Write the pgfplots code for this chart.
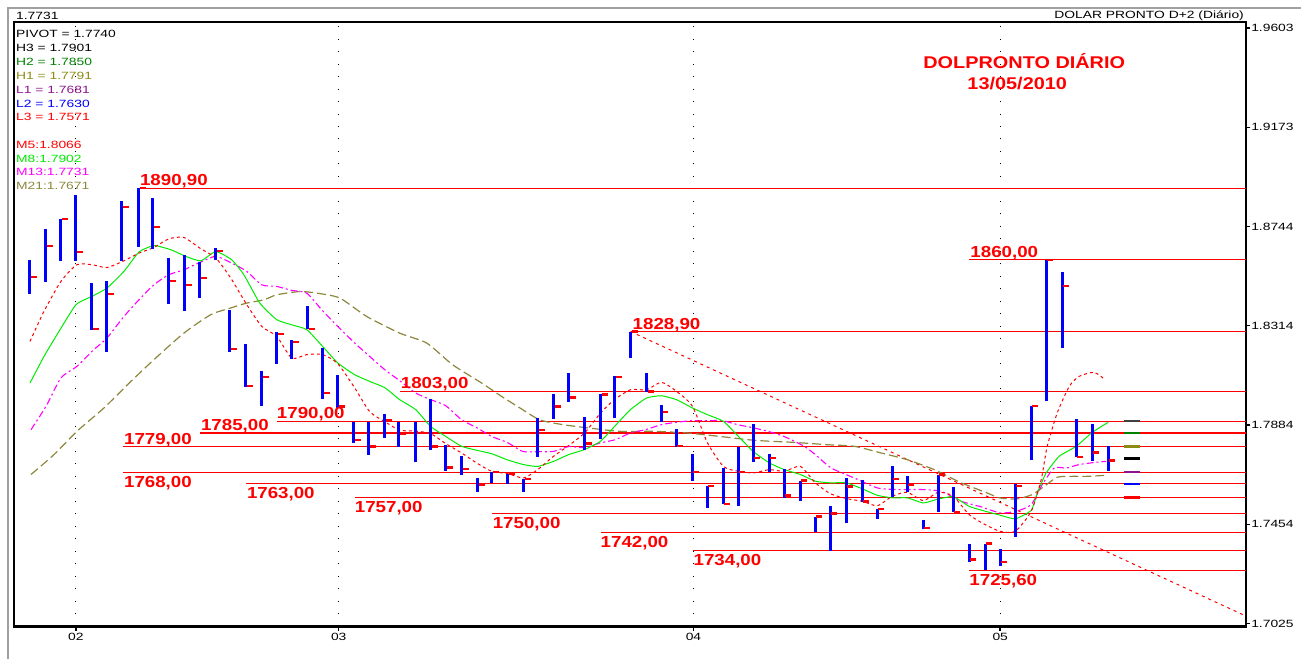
\documentclass[border=0pt]{standalone}
\usepackage{pgfplots}
\pgfplotsset{compat=1.18}
\usepackage{pgfplotstable}
\usepackage{fontspec}
\setmainfont{Liberation Sans}
\newfontfamily\labfont[FakeStretch=1.17]{Liberation Sans}
\newfontfamily\smfont[FakeStretch=1.32]{Liberation Sans}
\newcommand\sm{\smfont\fontsize{10.5bp}{12bp}\selectfont}
\newcommand\lab{\labfont\bfseries\fontsize{16bp}{18bp}\selectfont}
\newcommand\ttl{\labfont\bfseries\fontsize{17bp}{19bp}\selectfont}

\definecolor{hgreen}{RGB}{0,128,0}
\definecolor{holive}{RGB}{140,140,20}
\definecolor{lpurple}{RGB}{140,20,140}
\definecolor{mgreen}{RGB}{0,235,0}
\definecolor{mmag}{RGB}{255,0,255}
\definecolor{molive}{RGB}{140,135,60}
\definecolor{srred}{RGB}{255,0,0}
\definecolor{frame}{RGB}{160,160,160}

\pgfdeclareplotmark{closetick}{\pgfpathmoveto{\pgfqpoint{1bp}{0pt}}\pgfpathlineto{\pgfqpoint{7bp}{0pt}}\pgfusepathqstroke}

% daily bars: x position, high, low, close
\pgfplotstableread{
x h l c
30 1.8599 1.8452 1.8526
46 1.8734 1.8504 1.8660
61 1.8777 1.8595 1.8777
76 1.8881 1.8595 1.8634
92 1.8500 1.8297 1.8301
107 1.8509 1.8202 1.8452
122 1.8855 1.8595 1.8829
139 1.8909 1.8656 1.8909
153 1.8868 1.8647 1.8742
169 1.8608 1.8409 1.8509
185 1.8621 1.8379 1.8491
200 1.8591 1.8435 1.8522
216 1.8651 1.8599 1.8638
230 1.8383 1.8202 1.8214
246 1.8236 1.8050 1.8054
262 1.8119 1.7968 1.8093
277 1.8288 1.8150 1.8279
292 1.8253 1.8171 1.8245
308 1.8400 1.8301 1.8301
323 1.8219 1.7998 1.8024
338 1.8102 1.7959 1.7964
354 1.7899 1.7808 1.7821
369 1.7899 1.7756 1.7791
385 1.7933 1.7830 1.7907
399 1.7899 1.7791 1.7847
416 1.7899 1.7726 1.7851
431 1.7998 1.7778 1.7791
446 1.7799 1.7687 1.7700
462 1.7752 1.7670 1.7695
478 1.7657 1.7596 1.7626
492 1.7682 1.7635 1.7682
508 1.7674 1.7631 1.7674
524 1.7652 1.7596 1.7652
538 1.7916 1.7747 1.7864
554 1.8020 1.7912 1.7964
569 1.8111 1.7985 1.8003
585 1.7920 1.7778 1.7804
601 1.8020 1.7825 1.8016
615 1.8098 1.7916 1.8093
631 1.8289 1.8176 1.8289
647 1.8111 1.8029 1.8029
662 1.7972 1.7899 1.7942
677 1.7868 1.7791 1.7795
693 1.7760 1.7644 1.7682
708 1.7622 1.7527 1.7622
724 1.7700 1.7544 1.7544
739 1.7791 1.7535 1.7682
754 1.7890 1.7726 1.7743
770 1.7760 1.7682 1.7743
785 1.7695 1.7570 1.7579
801 1.7644 1.7557 1.7644
816 1.7488 1.7423 1.7488
831 1.7535 1.7340 1.7501
847 1.7657 1.7458 1.7618
863 1.7648 1.7553 1.7553
878 1.7522 1.7479 1.7522
893 1.7708 1.7574 1.7652
908 1.7665 1.7596 1.7626
924 1.7475 1.7432 1.7440
939 1.7670 1.7509 1.7670
954 1.7618 1.7509 1.7509
970 1.7371 1.7293 1.7302
986 1.7371 1.7256 1.7371
1001 1.7349 1.7272 1.7293
1016 1.7631 1.7401 1.7622
1032 1.7968 1.7734 1.7968
1047 1.8600 1.7990 1.8600
1063 1.8548 1.8219 1.8487
1077 1.7912 1.7747 1.7747
1093 1.7890 1.7730 1.7765
1109 1.7795 1.7687 1.7731
}\bars

\begin{document}
\begin{tikzpicture}
\begin{scope}[shift={(-14bp,627bp)},x=1bp,y=-1bp]
\useasboundingbox (0,0) rectangle (1302,660);
\end{scope}
\begin{axis}[
  at={(0,0)}, anchor=south west,
  scale only axis, width=1233bp, height=605bp,
  xmin=14, xmax=1247, ymin=1.701202, ymax=1.962881,
  clip=false,
  axis line style={line width=2.5bp, black},
  xtick={76,339,694,1001}, xticklabels={02,03,04,05},
  ytick={1.7025,1.7454,1.7884,1.8314,1.8744,1.9173,1.9603},
  yticklabels={1.7025,1.7454,1.7884,1.8314,1.8744,1.9173,1.9603},
  xtick pos=left, ytick pos=right, yticklabel pos=right,
  tick align=outside, major tick length=4bp,
  tick style={line width=1.5bp, black},
  xmajorgrids, grid style={black, line width=0.9bp, dash pattern=on 0.9bp off 11.6bp},
  yticklabel style={font=\sm, inner sep=1bp},
  xticklabel style={font=\sm, inner sep=2bp},
]
% support / resistance lines
\pgfplotsset{srline/.style={srred, line width=1.3bp}}
\addplot[srline] coordinates {(139,1.8909) (1247,1.8909)};
\addplot[srline] coordinates {(970,1.8600) (1247,1.8600)};
\addplot[srline] coordinates {(631,1.8289) (1247,1.8289)};
\addplot[srline] coordinates {(400,1.8030) (1247,1.8030)};
\addplot[srline] coordinates {(277,1.7900) (1247,1.7900)};
\addplot[srline] coordinates {(200,1.7850) (1247,1.7850)};
\addplot[srline] coordinates {(123,1.7790) (1247,1.7790)};
\addplot[srline] coordinates {(123,1.7680) (1247,1.7680)};
\addplot[srline] coordinates {(246,1.7630) (1247,1.7630)};
\addplot[srline] coordinates {(355,1.7570) (1247,1.7570)};
\addplot[srline] coordinates {(492,1.7500) (1247,1.7500)};
\addplot[srline] coordinates {(601,1.7420) (1247,1.7420)};
\addplot[srline] coordinates {(694,1.7340) (1247,1.7340)};
\addplot[srline] coordinates {(970,1.7256) (1247,1.7256)};
% trend line
\addplot[srred, line width=1bp, dash pattern=on 3bp off 4bp] coordinates {(631,1.8289) (1247,1.7057)};
% M21
\addplot[molive, line width=1.2bp, dash pattern=on 9bp off 4bp, smooth, tension=0.4] coordinates {
(31,1.7670) (54,1.7756) (77,1.7857) (104,1.7958) (131,1.8073) (154,1.8167) (184,1.8282) (211,1.8362) (231,1.8391) (247,1.8412) (264,1.8426) (277,1.8448) (300,1.8462) (317,1.8455) (340,1.8434) (367,1.8354) (400,1.8282) (427,1.8239) (453,1.8145) (482,1.8066) (502,1.8008) (520,1.7959) (540,1.7907) (563,1.7886) (590,1.7871) (620,1.7857) (653,1.7857) (687,1.7850) (720,1.7835) (755,1.7818) (795,1.7809) (828,1.7799) (855,1.7792) (882,1.7763) (908,1.7734) (935,1.7691) (962,1.7634) (988,1.7590) (1000,1.7569) (1017,1.7564) (1033,1.7583) (1045,1.7619) (1058,1.7658) (1072,1.7662) (1087,1.7662) (1105,1.7666)};
% M13
\addplot[mmag, line width=1.1bp, dash pattern=on 7bp off 3bp on 2bp off 3bp, smooth, tension=0.4] coordinates {
(31,1.7864) (46,1.7965) (61,1.8088) (77,1.8138) (92,1.8203) (107,1.8261) (124,1.8354) (139,1.8426) (154,1.8491) (169,1.8535) (184,1.8556) (201,1.8590) (216,1.8614) (232,1.8585) (247,1.8549) (262,1.8491) (277,1.8484) (292,1.8467) (307,1.8455) (322,1.8383) (338,1.8311) (355,1.8239) (370,1.8181) (385,1.8124) (400,1.8076) (416,1.8023) (431,1.7994) (446,1.7968) (462,1.7907) (477,1.7873) (492,1.7835) (508,1.7808) (523,1.7770) (538,1.7769) (554,1.7770) (569,1.7791) (585,1.7786) (601,1.7807) (616,1.7821) (631,1.7850) (646,1.7864) (662,1.7886) (677,1.7896) (692,1.7903) (708,1.7903) (723,1.7903) (738,1.7886) (755,1.7871) (770,1.7855) (785,1.7834) (805,1.7792) (816,1.7756) (832,1.7698) (855,1.7655) (878,1.7612) (898,1.7605) (922,1.7605) (942,1.7597) (962,1.7554) (982,1.7530) (1001,1.7504) (1017,1.7511) (1032,1.7540) (1043,1.7626) (1055,1.7698) (1067,1.7698) (1080,1.7713) (1097,1.7723) (1107,1.7727)};
% M8
\addplot[mgreen, line width=1bp, smooth, tension=0.3] coordinates {
(30,1.8066) (44,1.8181) (56,1.8268) (76,1.8405) (92,1.8441) (107,1.8477) (124,1.8549) (139,1.8633) (154,1.8661) (171,1.8643) (186,1.8614) (201,1.8595) (216,1.8635) (232,1.8599) (244,1.8535) (260,1.8412) (277,1.8340) (292,1.8318) (307,1.8297) (323,1.8224) (338,1.8153) (355,1.8102) (370,1.8073) (385,1.8046) (400,1.7994) (416,1.7951) (431,1.7878) (446,1.7835) (462,1.7792) (477,1.7775) (492,1.7760) (508,1.7733) (524,1.7713) (538,1.7705) (554,1.7727) (569,1.7756) (585,1.7778) (601,1.7814) (615,1.7878) (631,1.7951) (647,1.8001) (662,1.8011) (677,1.7994) (693,1.7958) (708,1.7929) (724,1.7900) (739,1.7835) (754,1.7769) (770,1.7720) (785,1.7691) (801,1.7670) (816,1.7641) (831,1.7634) (847,1.7634) (863,1.7608) (878,1.7580) (893,1.7569) (908,1.7569) (924,1.7547) (939,1.7564) (954,1.7574) (970,1.7532) (986,1.7511) (1001,1.7494) (1016,1.7478) (1032,1.7515) (1038,1.7590) (1047,1.7677) (1060,1.7749) (1077,1.7792) (1093,1.7852) (1109,1.7896)};
% M5
\addplot[srred, line width=1bp, dash pattern=on 3bp off 3bp, smooth, tension=0.4] coordinates {
(30,1.8246) (44,1.8376) (61,1.8506) (77,1.8578) (92,1.8578) (107,1.8566) (124,1.8595) (139,1.8628) (154,1.8653) (169,1.8690) (184,1.8696) (201,1.8647) (216,1.8607) (231,1.8520) (247,1.8405) (262,1.8311) (277,1.8268) (292,1.8174) (307,1.8189) (323,1.8189) (338,1.8150) (355,1.8045) (370,1.7942) (385,1.7899) (400,1.7862) (416,1.7858) (431,1.7847) (446,1.7804) (462,1.7763) (477,1.7720) (492,1.7684) (508,1.7674) (524,1.7655) (538,1.7691) (554,1.7749) (569,1.7795) (585,1.7850) (601,1.7936) (615,1.7994) (631,1.8037) (647,1.8037) (662,1.8069) (677,1.8030) (693,1.7965) (708,1.7807) (724,1.7705) (739,1.7684) (754,1.7677) (770,1.7691) (785,1.7684) (801,1.7705) (816,1.7634) (831,1.7587) (847,1.7566) (863,1.7554) (878,1.7535) (893,1.7576) (908,1.7593) (924,1.7557) (939,1.7593) (954,1.7576) (970,1.7496) (986,1.7453) (1001,1.7424) (1016,1.7424) (1032,1.7511) (1042,1.7648) (1048,1.7792) (1058,1.7936) (1070,1.8051) (1080,1.8095) (1095,1.8112) (1106,1.8080)};
% bars (high-low)
\addplot[draw=none, mark=none, error bars/.cd, y dir=plus, y explicit, error mark=none,
  error bar style={line width=3bp, draw=blue, solid}]
  table[x=x, y=l, y error expr=\thisrow{h}-\thisrow{l}] {\bars};
% close ticks
\addplot[red, only marks, mark=closetick, mark options={line width=2.2bp, solid, red}]
  table[x=x, y=c] {\bars};
% pivot level markers
\addplot[black!75, line width=2.5bp] coordinates {(1125,1.7901) (1141,1.7901)};
\addplot[hgreen, line width=2.5bp] coordinates {(1125,1.7850) (1141,1.7850)};
\addplot[holive, line width=2.5bp] coordinates {(1125,1.7791) (1141,1.7791)};
\addplot[black, line width=2.5bp] coordinates {(1125,1.7740) (1141,1.7740)};
\addplot[lpurple, line width=2.5bp] coordinates {(1125,1.7681) (1141,1.7681)};
\addplot[blue, line width=2.5bp] coordinates {(1125,1.7630) (1141,1.7630)};
\addplot[red, line width=2.5bp] coordinates {(1125,1.7571) (1141,1.7571)};
% level labels
\tikzset{lab/.style={font=\lab, text=srred, inner sep=0pt, anchor=base west}}
\node[lab, yshift=2.5bp] at (axis cs:140,1.8909) {1890,90};
\node[lab, yshift=2.5bp] at (axis cs:971,1.8600) {1860,00};
\node[lab, yshift=2.5bp] at (axis cs:633,1.8289) {1828,90};
\node[lab, yshift=2.5bp] at (axis cs:401,1.8030) {1803,00};
\node[lab, yshift=2.5bp] at (axis cs:277,1.7900) {1790,00};
\node[lab, yshift=2.5bp] at (axis cs:201,1.7850) {1785,00};
\node[lab, yshift=2.5bp] at (axis cs:124,1.7790) {1779,00};
\node[lab, yshift=-15bp] at (axis cs:124,1.7680) {1768,00};
\node[lab, yshift=-15bp] at (axis cs:247,1.7630) {1763,00};
\node[lab, yshift=-15bp] at (axis cs:355,1.7570) {1757,00};
\node[lab, yshift=-15bp] at (axis cs:493,1.7500) {1750,00};
\node[lab, yshift=-15bp] at (axis cs:601,1.7420) {1742,00};
\node[lab, yshift=-15bp] at (axis cs:694,1.7340) {1734,00};
\node[lab, yshift=-15bp] at (axis cs:970,1.7256) {1725,60};
\end{axis}
\begin{scope}[shift={(-14bp,627bp)},x=1bp,y=-1bp]
\draw[frame, line width=2bp] (8,660) -- (8,8) -- (1302,8);
\tikzset{sm/.style={font=\sm, inner sep=0pt, anchor=west}}
\node[sm] at (16,16) {1.7731};
\node[sm, anchor=east] at (1245,16) {DOLAR PRONTO D+2 (Diário)};
\node[sm] at (16,34.3) {PIVOT = 1.7740};
\node[sm] at (16,48.3) {H3 = 1.7901};
\node[sm, text=hgreen] at (16,62.3) {H2 = 1.7850};
\node[sm, text=holive] at (16,76) {H1 = 1.7791};
\node[sm, text=lpurple] at (16,90) {L1 = 1.7681};
\node[sm, text=blue] at (16,103.7) {L2 = 1.7630};
\node[sm, text=red] at (16,117.3) {L3 = 1.7571};
\node[sm, text=red] at (16,145) {M5:1.8066};
\node[sm, text=mgreen] at (16,158.7) {M8:1.7902};
\node[sm, text=mmag] at (16,172.3) {M13:1.7731};
\node[sm, text=molive] at (16,186) {M21:1.7671};
\node[font=\ttl, text=srred, inner sep=0pt] at (1025,61) {DOLPRONTO DIÁRIO};
\node[font=\ttl, text=srred, inner sep=0pt] at (1018,84) {13/05/2010};
\end{scope}
\end{tikzpicture}
\end{document}
